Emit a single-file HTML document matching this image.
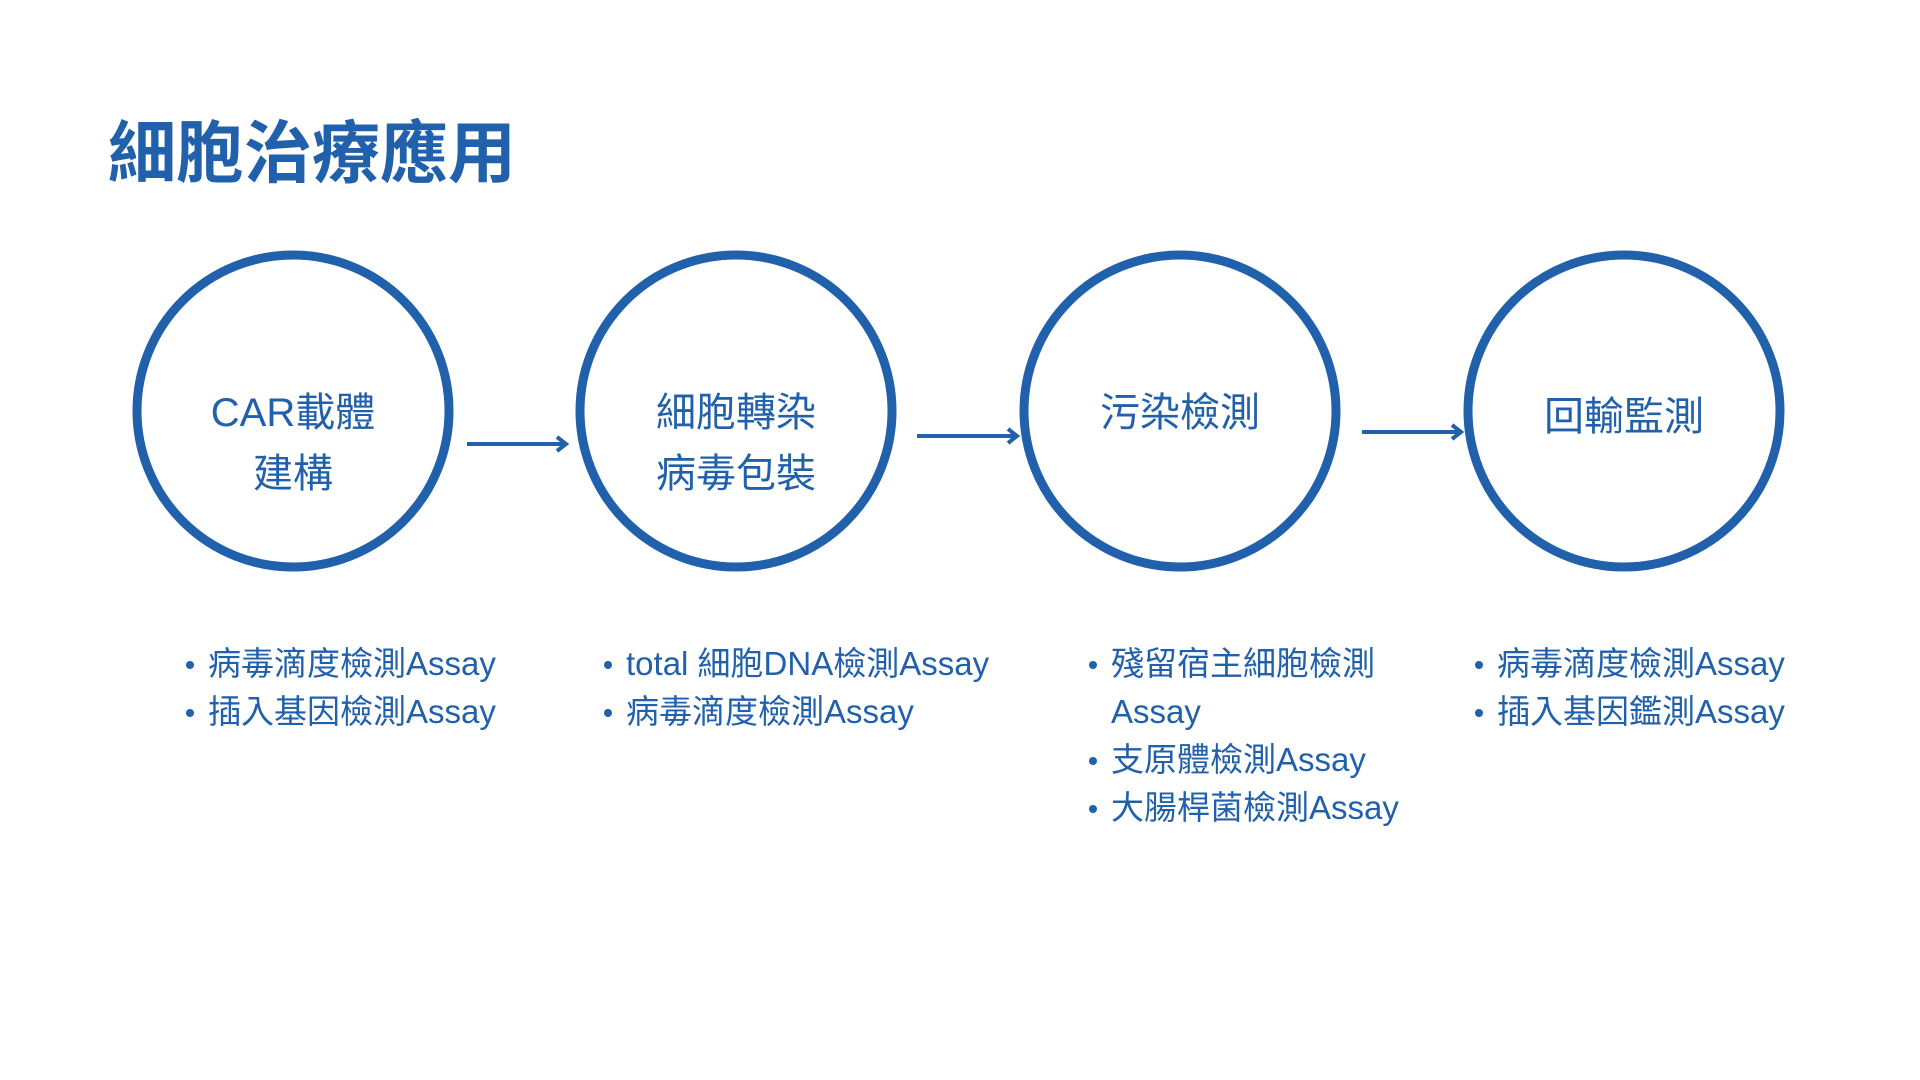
<!DOCTYPE html>
<html><head><meta charset="utf-8"><style>
body{margin:0;width:1920px;height:1080px;background:#fff;position:relative;overflow:hidden;font-family:"Liberation Sans","Noto Sans CJK TC",sans-serif;color:#2160aa}
.t{position:absolute;white-space:nowrap}
.title{left:108px;top:109px;font-size:68px;font-weight:bold;line-height:90px}
.c{position:absolute;font-size:40px;line-height:61px;text-align:center;width:300px}
.b{position:absolute;font-size:33px;line-height:48px}
.b div{position:relative;padding-left:22px;white-space:nowrap}
.b div.d::before{content:"";position:absolute;left:0;top:21px;width:8px;height:8px;border-radius:50%;background:#2160aa}
</style></head><body>
<div class="t title">細胞治療應用</div>
<svg width="1920" height="1080" style="position:absolute;left:0;top:0">
<g fill="none" stroke="#2160aa" stroke-width="9">
<circle cx="293" cy="411" r="156"/><circle cx="736" cy="411" r="156"/><circle cx="1180" cy="411" r="156"/><circle cx="1624" cy="411" r="156"/>
</g>
<g stroke="#2160aa" stroke-width="4" fill="none">
<line x1="467" y1="444" x2="565" y2="444"/><polyline points="557,437 566,444 557,451"/>
<line x1="917" y1="436" x2="1016" y2="436"/><polyline points="1008,429 1017,436 1008,443"/>
<line x1="1362" y1="432" x2="1460" y2="432"/><polyline points="1452,425 1461,432 1452,439"/>
</g>
</svg>
<div class="c" style="left:143px;top:383px">CAR載體<br>建構</div>
<div class="c" style="left:586px;top:383px">細胞轉染<br>病毒包裝</div>
<div class="c" style="left:1030px;top:383px">污染檢測</div>
<div class="c" style="left:1474px;top:387px">回輸監測</div>
<div class="b" style="left:186px;top:640px"><div class="d">病毒滴度檢測Assay</div><div class="d">插入基因檢測Assay</div></div>
<div class="b" style="left:604px;top:640px"><div class="d">total 細胞DNA檢測Assay</div><div class="d">病毒滴度檢測Assay</div></div>
<div class="b" style="left:1089px;top:640px"><div class="d">殘留宿主細胞檢測</div><div>Assay</div><div class="d">支原體檢測Assay</div><div class="d">大腸桿菌檢測Assay</div></div>
<div class="b" style="left:1475px;top:640px"><div class="d">病毒滴度檢測Assay</div><div class="d">插入基因鑑測Assay</div></div>
</body></html>
